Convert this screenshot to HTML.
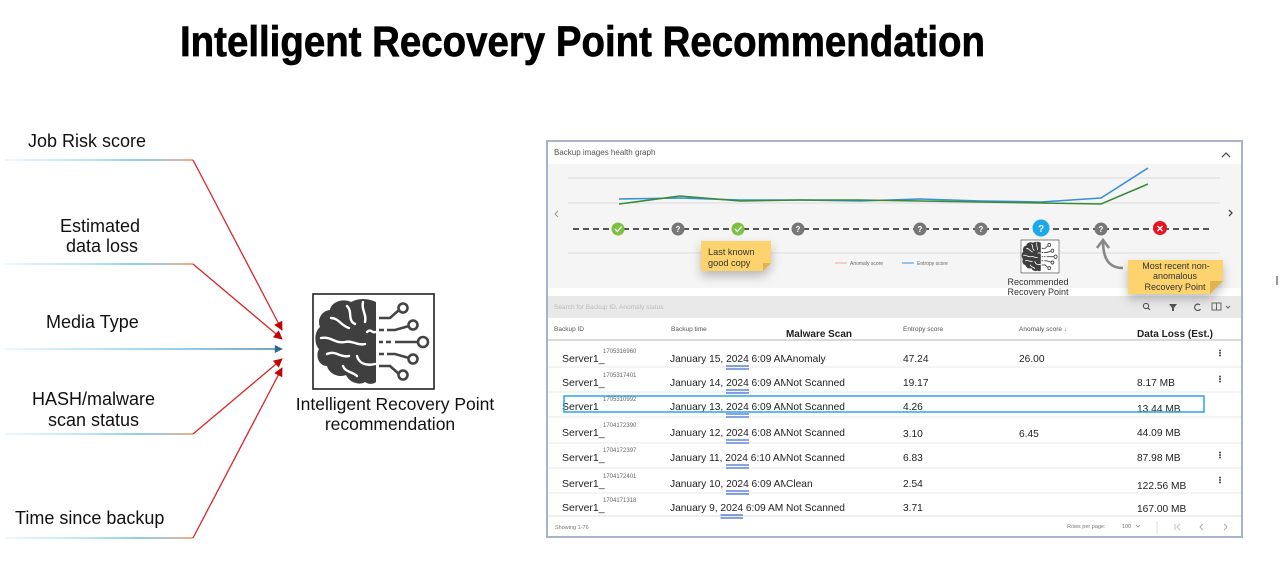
<!DOCTYPE html>
<html><head><meta charset="utf-8"><style>
html,body{margin:0;padding:0;background:#fff;width:1280px;height:561px;overflow:hidden}
svg{display:block;font-family:"Liberation Sans",Arial,sans-serif}
</style></head><body>
<svg width="1280" height="561" viewBox="0 0 1280 561" xmlns="http://www.w3.org/2000/svg">
<defs>
<linearGradient id="lg" gradientUnits="userSpaceOnUse" x1="5" y1="0" x2="193" y2="0">
<stop offset="0" stop-color="#e3f3fb"/><stop offset="0.45" stop-color="#8fd3f2"/><stop offset="0.7" stop-color="#4cb4e3"/><stop offset="0.86" stop-color="#8c9eae"/><stop offset="1" stop-color="#ef7a32"/>
</linearGradient>
<linearGradient id="lgb" gradientUnits="userSpaceOnUse" x1="5" y1="0" x2="280" y2="0">
<stop offset="0" stop-color="#e3f3fb"/><stop offset="0.35" stop-color="#8fd3f2"/><stop offset="0.65" stop-color="#4cb4e3"/><stop offset="1" stop-color="#2a6a90"/>
</linearGradient>
<marker id="ar" viewBox="0 0 10 10" refX="9" refY="5" markerWidth="10" markerHeight="9" markerUnits="userSpaceOnUse" orient="auto"><path d="M0,0 L10,5 L0,10 z" fill="#c40000"/></marker>
<marker id="ab" viewBox="0 0 10 10" refX="9" refY="5" markerWidth="9" markerHeight="8" markerUnits="userSpaceOnUse" orient="auto"><path d="M0,0 L10,5 L0,10 z" fill="#2a6a90"/></marker>
<filter id="sh" x="-30%" y="-30%" width="160%" height="180%"><feDropShadow dx="0" dy="5" stdDeviation="5" flood-color="#000" flood-opacity="0.25"/></filter>
<clipPath id="dc"><rect x="660" y="330" width="125.5" height="200"/></clipPath>
<g id="brain">
<rect x="0" y="0" width="121" height="95" fill="#fff" stroke="#222" stroke-width="1.6"/>
<path d="M63,8 C55,4 45,4 38,8 C30,4 18,8 17,16 C8,17 4,26 7,33 C1,38 1,50 6,55 C2,62 6,72 14,72 C16,80 26,84 33,81 C36,88 46,92 52,88 C56,91 61,90 63,88 Z" fill="#3f3f3f"/>
<g fill="none" stroke="#fff" stroke-width="2.4" stroke-linecap="round">
<path d="M50,8 C48,16 54,20 52,28"/><path d="M34,12 C40,18 34,26 42,30"/><path d="M18,24 C26,24 28,32 36,34"/>
<path d="M8,44 C18,42 22,50 32,48 C40,46 44,52 52,50"/><path d="M14,60 C22,56 28,64 36,62"/>
<path d="M44,62 C46,70 54,72 62,70"/><path d="M30,72 C32,78 40,78 44,82"/><path d="M54,38 C58,34 60,40 62,38"/>
</g>
<g fill="none" stroke="#444" stroke-width="2.6">
<path d="M66,24 H77 L86,16"/><path d="M66,36 H71 M74,36 H82 L96,32"/><path d="M66,48 H70 M73,48 H78 M82,48 H105"/>
<path d="M66,60 H71 M74,60 H82 L96,64"/><path d="M66,72 H77 L86,80"/>
</g>
<g fill="#fff" stroke="#444" stroke-width="2.6">
<circle cx="90" cy="14" r="4.5"/><circle cx="100" cy="31" r="4.5"/><circle cx="110" cy="48" r="5"/><circle cx="100" cy="65" r="4.5"/><circle cx="90" cy="81" r="4.5"/>
</g>
</g>
</defs>

<!-- Title -->
<text x="180" y="56" font-size="43" font-weight="bold" fill="#000" stroke="#000" stroke-width="0.7" textLength="805" lengthAdjust="spacingAndGlyphs">Intelligent Recovery Point Recommendation</text>

<!-- Left inputs -->
<g font-size="18" fill="#111">
<text x="28" y="147">Job Risk score</text>
<text x="60" y="232">Estimated</text>
<text x="66" y="252">data loss</text>
<text x="46" y="328">Media Type</text>
<text x="32" y="405">HASH/malware</text>
<text x="48" y="426">scan status</text>
<text x="15" y="524">Time since backup</text>
</g>
<g stroke-width="1.3" fill="none">
<line x1="5" y1="160" x2="193" y2="160" stroke="url(#lg)"/>
<line x1="5" y1="264" x2="193" y2="264" stroke="url(#lg)"/>
<line x1="5" y1="434" x2="193" y2="434" stroke="url(#lg)"/>
<line x1="5" y1="538" x2="193" y2="538" stroke="url(#lg)"/>
<line x1="5" y1="349" x2="282" y2="349" stroke="url(#lgb)" marker-end="url(#ab)"/>
<g stroke="#d8262a">
<line x1="193" y1="160" x2="282" y2="330" marker-end="url(#ar)"/>
<line x1="193" y1="264" x2="282" y2="339" marker-end="url(#ar)"/>
<line x1="193" y1="434" x2="282" y2="359" marker-end="url(#ar)"/>
<line x1="193" y1="538" x2="282" y2="368" marker-end="url(#ar)"/>
</g>
</g>

<!-- Center icon -->
<use href="#brain" transform="translate(313,294)"/>
<text x="395" y="410" font-size="17.5" fill="#111" text-anchor="middle">Intelligent Recovery Point</text>
<text x="390" y="430" font-size="17.5" fill="#111" text-anchor="middle">recommendation</text>

<!-- Right panel -->
<rect x="547" y="141" width="695" height="396" fill="#fff" stroke="#a8b3cb" stroke-width="2"/>
<text x="554" y="155" font-size="8" fill="#555">Backup images health graph</text>
<polyline points="1222,157 1226,153 1230,157" fill="none" stroke="#555" stroke-width="1.3"/>
<rect x="548" y="164" width="693" height="124" fill="#f5f5f5"/>
<g stroke="#dcdcdc" stroke-width="1">
<line x1="568" y1="178" x2="1220" y2="178"/><line x1="568" y1="203" x2="1220" y2="203"/><line x1="568" y1="253" x2="1220" y2="253"/>
</g>
<polyline points="558,211 555,214 558,217" fill="none" stroke="#999" stroke-width="1"/>
<polyline points="1229,210 1232,213 1229,216" fill="none" stroke="#444" stroke-width="1.3"/>
<polyline points="619,199 680,198 740,200 800,200 860,201 920,199 981,201 1041,202 1101,198 1148,168" fill="none" stroke="#3a8fd6" stroke-width="1.6"/>
<polyline points="619,204 680,196 740,201 800,200 860,200 920,201 981,202 1041,203 1101,204 1148,184" fill="none" stroke="#3a8a3a" stroke-width="1.6"/>
<line x1="573" y1="229" x2="1213" y2="229" stroke="#222" stroke-width="1.5" stroke-dasharray="6 4"/>
<g>
<circle cx="618" cy="229" r="6.5" fill="#7cc242"/><polyline points="615,229 617.5,231.5 621.5,226.5" fill="none" stroke="#fff" stroke-width="1.4"/>
<circle cx="738" cy="229" r="6.5" fill="#7cc242"/><polyline points="735,229 737.5,231.5 741.5,226.5" fill="none" stroke="#fff" stroke-width="1.4"/>
<circle cx="678" cy="229" r="6.5" fill="#777"/><circle cx="798" cy="229" r="6.5" fill="#777"/><circle cx="920" cy="229" r="6.5" fill="#777"/><circle cx="981" cy="229" r="6.5" fill="#777"/><circle cx="1101" cy="229" r="6.5" fill="#777"/>
<circle cx="1041" cy="228" r="8.5" fill="#1aa9ec"/>
<circle cx="1160" cy="228" r="7" fill="#ea1220"/>
<path d="M1157.5,226 L1162.5,231 M1162.5,226 L1157.5,231" stroke="#fff" stroke-width="1.4"/>
<g font-size="8" font-weight="bold" fill="#fff" text-anchor="middle">
<text x="678" y="232">?</text><text x="798" y="232">?</text><text x="920" y="232">?</text><text x="981" y="232">?</text><text x="1101" y="232">?</text>
<text x="1041" y="232" font-size="10">?</text>
</g>
</g>
<line x1="835" y1="263" x2="847" y2="263" stroke="#f4a0a0" stroke-width="1"/>
<text x="850" y="265" font-size="5" fill="#666">Anomaly score</text>
<line x1="902" y1="263" x2="914" y2="263" stroke="#3a8fd6" stroke-width="1"/>
<text x="917" y="265" font-size="5" fill="#666">Entropy score</text>

<!-- sticky 1 -->
<g filter="url(#sh)"><polygon points="701,241 771,241 771,263 763,271 701,271" fill="#fdd36e"/></g>
<polygon points="763,271 771,263 763,263" fill="#e2b24c"/>
<text x="708" y="255" font-size="9.2" fill="#333">Last known</text>
<text x="708" y="266" font-size="9.2" fill="#333">good copy</text>

<!-- recommended icon -->
<use href="#brain" transform="translate(1021,240) scale(0.314,0.347)"/>
<text x="1038" y="285" font-size="9" fill="#333" text-anchor="middle">Recommended</text>
<text x="1038" y="295" font-size="9" fill="#333" text-anchor="middle">Recovery Point</text>

<!-- curved arrow -->
<path d="M1123,268 C1109,268 1103,259 1103,241" fill="none" stroke="#888" stroke-width="2.6"/>
<polyline points="1097,248 1103,240 1109,248" fill="none" stroke="#888" stroke-width="2.6"/>

<!-- search bar -->
<rect x="548" y="296" width="693" height="22" fill="#e9e9e9"/>
<text x="554" y="309" font-size="6.5" fill="#bbb">Search for Backup ID, Anomaly status</text>
<circle cx="1146" cy="306" r="2.6" fill="none" stroke="#555" stroke-width="1.1"/><line x1="1148" y1="308" x2="1150" y2="310" stroke="#555" stroke-width="1.2"/>
<polygon points="1169,304 1177,304 1174,308 1174,311 1172,311 1172,308" fill="#555"/>
<path d="M1200,305 A3.2,3.2 0 1 0 1200.5,309" fill="none" stroke="#555" stroke-width="1.2"/>
<rect x="1212" y="303" width="9" height="7" fill="none" stroke="#666" stroke-width="1"/><line x1="1216.5" y1="303" x2="1216.5" y2="310" stroke="#666"/>
<polyline points="1226,306 1228,308 1230,306" fill="none" stroke="#666" stroke-width="1"/>

<!-- sticky 2 -->
<g filter="url(#sh)"><polygon points="1128,260 1223,260 1223,281 1210,294 1128,294" fill="#fdd36e"/></g>
<polygon points="1210,294 1223,281 1210,281" fill="#e2b24c"/>
<g font-size="9" fill="#333" text-anchor="middle">
<text x="1176" y="269">Most recent non-</text>
<text x="1175" y="279">anomalous</text>
<text x="1175" y="290">Recovery Point</text>
</g>

<!-- table header -->
<g font-size="6.5" fill="#555">
<text x="554" y="331">Backup ID</text>
<text x="671" y="331">Backup time</text>
<text x="903" y="331">Entropy score</text>
<text x="1019" y="331">Anomaly score ↓</text>
</g>
<text x="786" y="337" font-size="10" font-weight="bold" fill="#222" textLength="66" lengthAdjust="spacingAndGlyphs">Malware Scan</text>
<text x="1137" y="337" font-size="10" font-weight="bold" fill="#222" textLength="76" lengthAdjust="spacingAndGlyphs">Data Loss (Est.)</text>
<line x1="548" y1="340" x2="1241" y2="340" stroke="#dadada" stroke-width="2"/>

<g stroke="#e8e8e8" stroke-width="1">
<line x1="548" y1="367" x2="1241" y2="367"/><line x1="548" y1="392" x2="1241" y2="392"/><line x1="548" y1="417" x2="1241" y2="417"/>
<line x1="548" y1="443" x2="1241" y2="443"/><line x1="548" y1="468" x2="1241" y2="468"/><line x1="548" y1="493" x2="1241" y2="493"/>
<line x1="548" y1="516" x2="1241" y2="516" stroke="#dcdcdc"/>
</g>

<!-- rows -->
<g font-size="10.5" fill="#222">
<text x="562" y="362">Server1_</text><text x="562" y="386">Server1_</text><text x="562" y="410">Server1_</text><text x="562" y="436">Server1_</text><text x="562" y="461">Server1_</text><text x="562" y="487">Server1_</text><text x="562" y="511">Server1_</text>
</g>
<g font-size="6" fill="#666">
<text x="603" y="353">1705316960</text><text x="603" y="377">1705317401</text><text x="603" y="401">1705310992</text><text x="603" y="427">1704172390</text><text x="603" y="452">1704172397</text><text x="603" y="478">1704172401</text><text x="603" y="502">1704171318</text>
</g>
<g font-size="10.2" fill="#222" clip-path="url(#dc)">
<text x="670" y="362">January 15, 2024 6:09 AM</text>
<text x="670" y="386">January 14, 2024 6:09 AM</text>
<text x="670" y="410">January 13, 2024 6:09 AM</text>
<text x="670" y="436">January 12, 2024 6:08 AM</text>
<text x="670" y="461">January 11, 2024 6:10 AM</text>
<text x="670" y="487">January 10, 2024 6:09 AM</text>
<text x="670" y="511">January 9, 2024 6:09 AM</text>
</g>
<g stroke="#3f6fd0" stroke-width="1.2">
<path d="M726,366 H749 M726,369 H749"/><path d="M726,390 H749 M726,393 H749"/><path d="M726,414 H749 M726,417 H749"/>
<path d="M726,440 H749 M726,443 H749"/><path d="M726,465 H749 M726,468 H749"/><path d="M726,491 H749 M726,494 H749"/>
<path d="M720.5,515 H743 M720.5,518 H743"/>
</g>
<g font-size="10.2" fill="#222">
<text x="786" y="362">Anomaly</text><text x="786" y="386">Not Scanned</text><text x="786" y="410">Not Scanned</text><text x="786" y="436">Not Scanned</text><text x="786" y="461">Not Scanned</text><text x="786" y="487">Clean</text><text x="786" y="511">Not Scanned</text>
<text x="903" y="362">47.24</text><text x="903" y="386">19.17</text><text x="903" y="410">4.26</text><text x="903" y="437">3.10</text><text x="903" y="461">6.83</text><text x="903" y="487">2.54</text><text x="903" y="511">3.71</text>
<text x="1019" y="362">26.00</text><text x="1019" y="437">6.45</text>
<text x="1137" y="386">8.17 MB</text><text x="1137" y="412">13.44 MB</text><text x="1137" y="436">44.09 MB</text><text x="1137" y="461">87.98 MB</text><text x="1137" y="489">122.56 MB</text><text x="1137" y="512">167.00 MB</text>
</g>
<g fill="#444">
<circle cx="1220" cy="350.5" r="1"/><circle cx="1220" cy="353" r="1"/><circle cx="1220" cy="355.5" r="1"/>
<circle cx="1220" cy="376.5" r="1"/><circle cx="1220" cy="379" r="1"/><circle cx="1220" cy="381.5" r="1"/>
<circle cx="1220" cy="452.5" r="1"/><circle cx="1220" cy="455" r="1"/><circle cx="1220" cy="457.5" r="1"/>
<circle cx="1220" cy="477.5" r="1"/><circle cx="1220" cy="480" r="1"/><circle cx="1220" cy="482.5" r="1"/>
</g>
<rect x="564" y="396" width="640" height="16" fill="none" stroke="#29a9e1" stroke-width="1.5"/>

<!-- footer -->
<text x="555" y="529" font-size="5.5" fill="#777">Showing 1-76</text>
<text x="1067" y="528" font-size="5.5" fill="#777">Rows per page:</text>
<text x="1122" y="528" font-size="5.5" fill="#777">100</text>
<polyline points="1136,525 1138,527 1140,525" fill="none" stroke="#888" stroke-width="0.8"/>
<line x1="1157" y1="521" x2="1157" y2="534" stroke="#ddd"/>
<path d="M1175,524 V530 M1180,524 L1177,527 L1180,530" fill="none" stroke="#bbb" stroke-width="0.9"/>
<polyline points="1203,524 1200,527 1203,530" fill="none" stroke="#aaa" stroke-width="0.9"/>
<polyline points="1224,524 1227,527 1224,530" fill="none" stroke="#aaa" stroke-width="0.9"/>

<rect x="1276" y="276" width="2" height="9" fill="#999"/>
</svg>
</body></html>
